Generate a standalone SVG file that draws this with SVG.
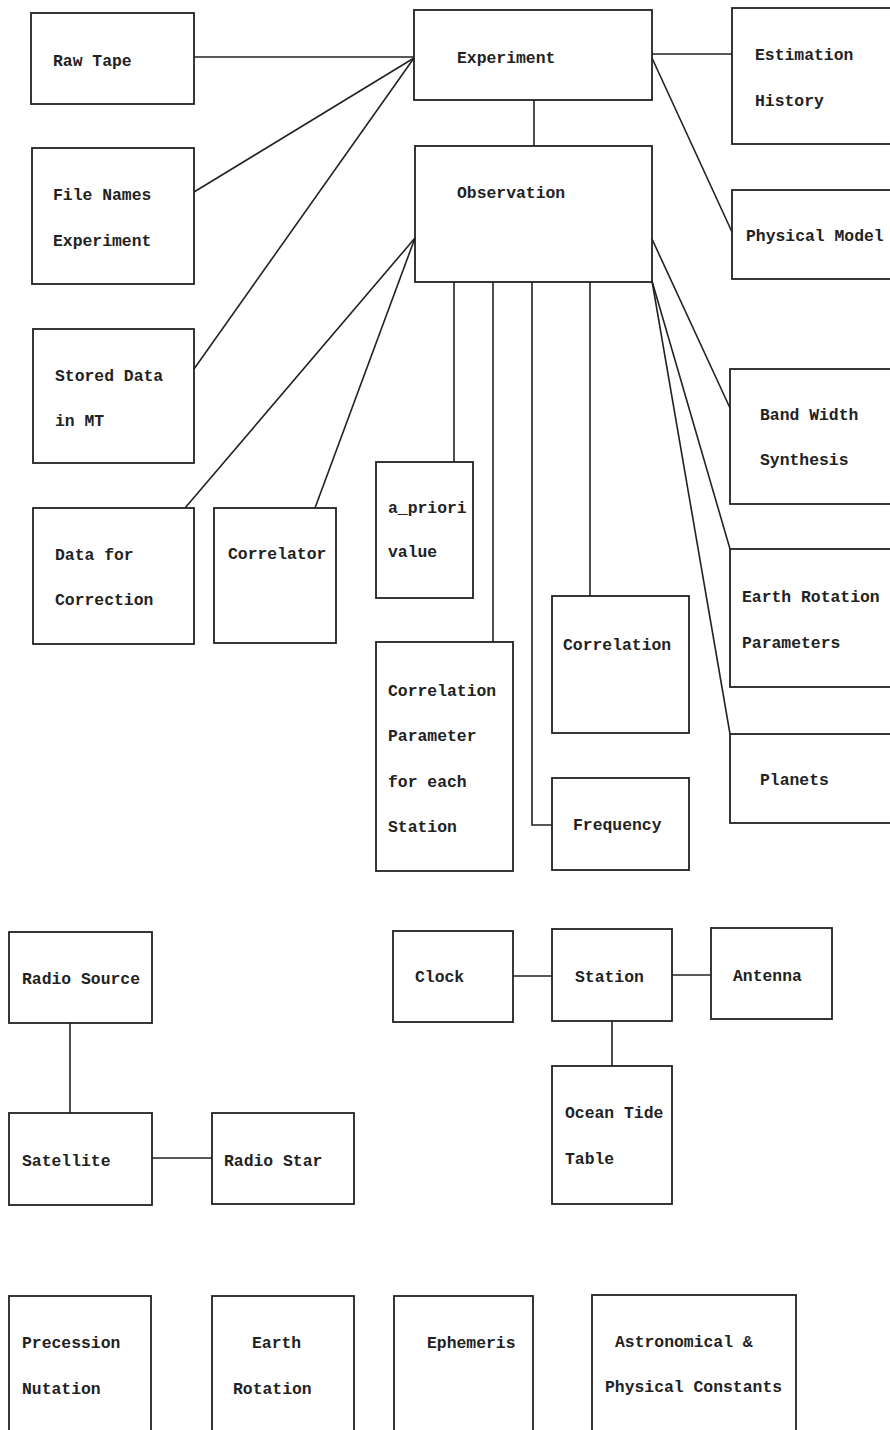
<svg xmlns="http://www.w3.org/2000/svg" width="890" height="1430" viewBox="0 0 890 1430">
<style>
rect{fill:none;stroke:#222;stroke-width:1.8}
line,polyline{fill:none;stroke:#222;stroke-width:1.6}
text{font-family:"Liberation Mono","DejaVu Sans Mono",monospace;font-size:16.4px;font-weight:bold;fill:#222}
</style>
<rect x="0" y="0" width="890" height="1430" style="fill:#fff;stroke:none"/>
<g id="connectors">
<line x1="194" y1="57" x2="414" y2="57"/>
<line x1="194" y1="192" x2="414" y2="58"/>
<line x1="194" y1="369" x2="414" y2="58"/>
<line x1="185" y1="508" x2="415" y2="238"/>
<line x1="315" y1="508" x2="415" y2="238"/>
<line x1="534" y1="100" x2="534" y2="146"/>
<line x1="652" y1="54" x2="732" y2="54"/>
<line x1="652" y1="58" x2="732" y2="232"/>
<line x1="652" y1="239" x2="730" y2="408"/>
<line x1="652" y1="281" x2="730" y2="549"/>
<line x1="652" y1="281" x2="730" y2="734"/>
<line x1="454" y1="282" x2="454" y2="462"/>
<line x1="493" y1="282" x2="493" y2="642"/>
<polyline points="532,282 532,825 552,825"/>
<line x1="590" y1="282" x2="590" y2="596"/>
<line x1="70" y1="1023" x2="70" y2="1113"/>
<line x1="152" y1="1158" x2="212" y2="1158"/>
<line x1="513" y1="976" x2="552" y2="976"/>
<line x1="672" y1="975" x2="711" y2="975"/>
<line x1="612" y1="1021" x2="612" y2="1066"/>
</g>
<g id="raw-tape"><rect x="31" y="13" width="163" height="91"/><text x="53" y="66">Raw Tape</text></g>
<g id="file-names"><rect x="32" y="148" width="162" height="136"/><text x="53" y="200">File Names</text><text x="53" y="246">Experiment</text></g>
<g id="stored-data"><rect x="33" y="329" width="161" height="134"/><text x="55" y="381">Stored Data</text><text x="55" y="426">in MT</text></g>
<g id="data-for-correction"><rect x="33" y="508" width="161" height="136"/><text x="55" y="560">Data for</text><text x="55" y="605">Correction</text></g>
<g id="correlator"><rect x="214" y="508" width="122" height="135"/><text x="228" y="559">Correlator</text></g>
<g id="experiment"><rect x="414" y="10" width="238" height="90"/><text x="457" y="63">Experiment</text></g>
<g id="observation"><rect x="415" y="146" width="237" height="136"/><text x="457" y="198">Observation</text></g>
<g id="estimation-history"><rect x="732" y="8" width="165" height="136"/><text x="755" y="60">Estimation</text><text x="755" y="106">History</text></g>
<g id="physical-model"><rect x="732" y="190" width="165" height="89"/><text x="746" y="241">Physical Model</text></g>
<g id="band-width"><rect x="730" y="369" width="167" height="135"/><text x="760" y="420">Band Width</text><text x="760" y="465">Synthesis</text></g>
<g id="a-priori"><rect x="376" y="462" width="97" height="136"/><text x="388" y="513">a_priori</text><text x="388" y="557">value</text></g>
<g id="earth-rotation-parameters"><rect x="730" y="549" width="167" height="138"/><text x="742" y="602">Earth Rotation</text><text x="742" y="648">Parameters</text></g>
<g id="correlation"><rect x="552" y="596" width="137" height="137"/><text x="563" y="650">Correlation</text></g>
<g id="correlation-parameter"><rect x="376" y="642" width="137" height="229"/><text x="388" y="696">Correlation</text><text x="388" y="741">Parameter</text><text x="388" y="787">for each</text><text x="388" y="832">Station</text></g>
<g id="planets"><rect x="730" y="734" width="167" height="89"/><text x="760" y="785">Planets</text></g>
<g id="frequency"><rect x="552" y="778" width="137" height="92"/><text x="573" y="830">Frequency</text></g>
<g id="radio-source"><rect x="9" y="932" width="143" height="91"/><text x="22" y="984">Radio Source</text></g>
<g id="satellite"><rect x="9" y="1113" width="143" height="92"/><text x="22" y="1166">Satellite</text></g>
<g id="radio-star"><rect x="212" y="1113" width="142" height="91"/><text x="224" y="1166">Radio Star</text></g>
<g id="clock"><rect x="393" y="931" width="120" height="91"/><text x="415" y="982">Clock</text></g>
<g id="station"><rect x="552" y="929" width="120" height="92"/><text x="575" y="982">Station</text></g>
<g id="antenna"><rect x="711" y="928" width="121" height="91"/><text x="733" y="981">Antenna</text></g>
<g id="ocean-tide-table"><rect x="552" y="1066" width="120" height="138"/><text x="565" y="1118">Ocean Tide</text><text x="565" y="1164">Table</text></g>
<g id="precession-nutation"><rect x="9" y="1296" width="142" height="150"/><text x="22" y="1348">Precession</text><text x="22" y="1394">Nutation</text></g>
<g id="earth-rotation"><rect x="212" y="1296" width="142" height="150"/><text x="252" y="1348">Earth</text><text x="233" y="1394">Rotation</text></g>
<g id="ephemeris"><rect x="394" y="1296" width="139" height="150"/><text x="427" y="1348">Ephemeris</text></g>
<g id="constants"><rect x="592" y="1295" width="204" height="151"/><text x="615" y="1347">Astronomical &amp;</text><text x="605" y="1392">Physical Constants</text></g>
</svg>
